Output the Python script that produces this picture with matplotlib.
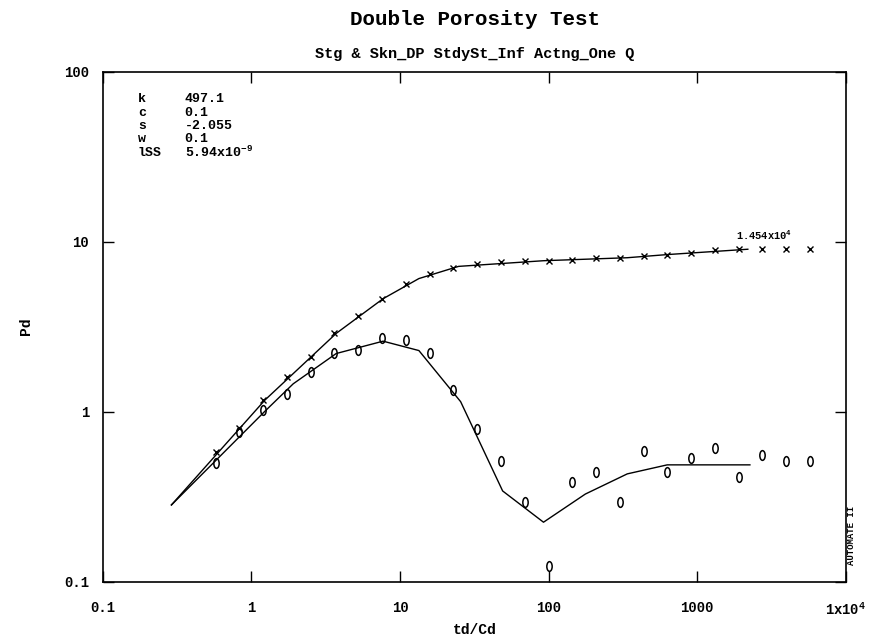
import matplotlib
matplotlib.use("Agg")
import matplotlib.pyplot as plt
from matplotlib.path import Path
from matplotlib.transforms import Affine2D
import numpy as np

### Data

# dimensionless time of the measured points
td_cd = [0.58, 0.83, 1.2, 1.74, 2.5, 3.6, 5.2, 7.6, 11, 15.8, 22.9, 33, 48, 69,
         100, 145, 209, 302, 437, 631, 912, 1318, 1905, 2754, 3981, 5754]
# pressure points ("x") and derivative points ("0")
pd_points = [0.583, 0.807, 1.17, 1.61, 2.11, 2.89, 3.68, 4.62, 5.61, 6.49, 7.04, 7.36, 7.60,
             7.67, 7.74, 7.85, 8.02, 8.02, 8.21, 8.40, 8.63, 8.91, 9.03, 9.03, 9.03, 9.03]
deriv_points = [0.502, 0.755, 1.02, 1.28, 1.71, 2.23, 2.32, 2.70, 2.64, 2.23, 1.35, 0.794, 0.511,
                0.294, 0.123, 0.386, 0.443, 0.294, 0.589, 0.443, 0.536, 0.614, 0.414, 0.557,
                0.514, 0.514]

# model curves
pd_model_t = [0.289, 1.23, 3.72, 7.69, 13.4, 24.8, 92.5, 339, 630, 2198]
pd_model = [0.283, 1.17, 2.89, 4.62, 6.07, 7.16, 7.73, 8.05, 8.40, 9.03]
deriv_model_t = [0.289, 1.236, 1.91, 3.72, 7.69, 13.4, 25.6, 49.1, 92.5, 177, 339, 630, 2270]
deriv_model = [0.283, 1.01, 1.46, 2.20, 2.60, 2.29, 1.146, 0.342, 0.224, 0.328, 0.431, 0.487, 0.487]

params = [("k", "497.1"), ("c", "0.1"), ("s", "-2.055"), ("w", "0.1"), ("lSS", r"5.94x10$^{-9}$")]
x_ticks = [0.1, 1, 10, 100, 1000, 10000]
x_tick_labels = ["0.1", "1", "10", "100", "1000", r"1x10$^{4}$"]
y_ticks = [0.1, 1, 10, 100]
y_tick_labels = ["0.1", "1", "10", "100"]

FONT = "Liberation Mono"
plt.rcParams["font.family"] = [FONT, "DejaVu Sans Mono"]
plt.rcParams["font.weight"] = "bold"
plt.rcParams["mathtext.fontset"] = "custom"
plt.rcParams["mathtext.rm"] = FONT + ":bold"
plt.rcParams["mathtext.it"] = FONT + ":bold"
plt.rcParams["mathtext.bf"] = FONT + ":bold"
plt.rcParams["axes.unicode_minus"] = False

# narrow hollow "0" used by the plotter for derivative points
zero_marker = Affine2D().scale(0.55, 1.0).transform_path(Path.unit_circle())

fig = plt.figure(figsize=(8.84, 6.4), dpi=100)
ax = fig.add_axes([0.1165, 0.091, 0.84, 0.797])

ax.plot(pd_model_t, pd_model, color="black", lw=1.0)
ax.plot(deriv_model_t, deriv_model, color="black", lw=1.0)
ax.plot(td_cd, pd_points, ls="none", marker="x", ms=4, mew=1.0, color="black")
ax.plot(td_cd, deriv_points, ls="none", marker=zero_marker, ms=7, mew=1.1,
        mfc="none", mec="black")

ax.set_xscale("log")
ax.set_yscale("log")
ax.set_xlim(0.1, 1e4)
ax.set_ylim(0.1, 100)
ax.set_xticks(x_ticks, x_tick_labels)
ax.set_yticks(y_ticks, y_tick_labels)
ax.minorticks_off()
ax.tick_params(which="major", direction="in", length=8, width=1.0,
               top=True, right=True, labelsize=10, pad=14)
ax.tick_params(axis="y", pad=10)
for s in ax.spines.values():
    s.set_linewidth(1.2)

ax.set_xlabel("td/Cd", fontsize=10.5, fontweight="bold", labelpad=4)
ax.set_ylabel("Pd", fontsize=10.5, fontweight="bold", labelpad=22)

# titles
fig.text(0.537, 0.970, "Double Porosity Test", ha="center", va="center",
         fontsize=15, fontweight="bold")
ax.set_title("Stg & Skn_DP StdySt_Inf Actng_One Q", fontsize=11, fontweight="bold", pad=10)

# fitted parameters block
for i, (name, val) in enumerate(params):
    y = 0.946 - i * 0.0262
    ax.text(0.047, y, name, transform=ax.transAxes, fontsize=9.5, va="center")
    ax.text(0.110, y, val, transform=ax.transAxes, fontsize=9.5, va="center")

ax.text(1830, 10.9, r"1.454x10$^{4}$", fontsize=7.5, va="center", ha="left")

fig.text(0.963, 0.164, "AUTOMATE II", rotation=90, fontsize=6.5, ha="center", va="center")

plt.savefig("out.png", dpi=100)
